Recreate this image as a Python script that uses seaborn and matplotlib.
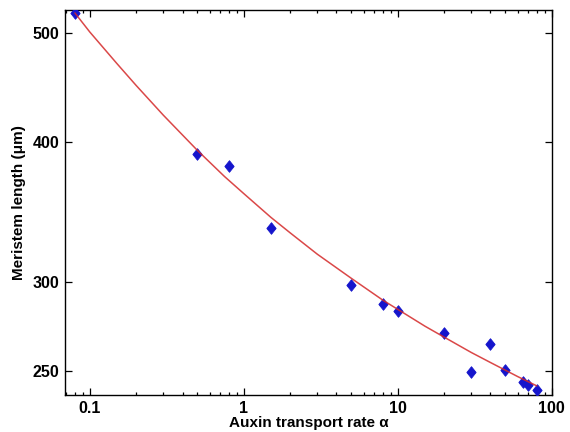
import numpy as np
import pandas as pd
import matplotlib
matplotlib.use("Agg")
import matplotlib.pyplot as plt
import seaborn as sns

# Measured points
alpha = [0.08, 0.5, 0.8, 1.5, 5, 8, 10, 20, 30, 40, 50, 65, 70, 80]
length = [521, 390, 381, 335, 298, 287, 283, 270, 249.5, 264, 250.5, 244.5, 243, 240.5]

# Fitted curve
fit_alpha = [0.08, 0.1, 0.15, 0.2, 0.3, 0.5, 0.75, 1, 1.5, 2, 3, 5, 8, 10, 15, 20, 30, 40, 60, 80]
fit_length = [521, 501, 469.6, 449, 422.5, 393, 372.5, 359.7, 342.6, 331.9, 317.7, 302.3,
              289.1, 283.7, 274.1, 268.0, 259.7, 254.4, 247.2, 242.5]

xticks = [0.1, 1, 10, 100]
xticklabels = ["0.1", "1", "10", "100"]
yticks = [250, 300, 400, 500]
yticklabels = ["250", "300", "400", "500"]

sns.set_style("ticks")
plt.rcParams['font.family'] = ['Liberation Sans', 'DejaVu Sans']
plt.rcParams['font.weight'] = 'bold'
plt.rcParams['text.color'] = 'black'
plt.rcParams['axes.labelcolor'] = 'black'
plt.rcParams['xtick.color'] = 'black'
plt.rcParams['ytick.color'] = 'black'

fig = plt.figure(figsize=(5.7, 4.32), dpi=100)
ax = fig.add_axes([0.114, 0.0856, 0.854, 0.891])

df_fit = pd.DataFrame({"a": fit_alpha, "L": fit_length})
df_pts = pd.DataFrame({"a": alpha, "L": length})

diamond = [(0, 1), (0.8, 0), (0, -1), (-0.8, 0), (0, 1)]
sns.scatterplot(data=df_pts, x="a", y="L", ax=ax, marker=diamond, color="#1515cc",
                s=70, edgecolor="#1515cc", linewidth=0.6, zorder=3)
sns.lineplot(data=df_fit, x="a", y="L", ax=ax, color="#d42828", linewidth=1.1, sort=False,
             zorder=4, alpha=0.85)

ax.set_xscale("log")
ax.set_yscale("log")
ax.set_xlim(0.069, 100)
ax.set_ylim(238, 524)

ax.set_xticks(xticks)
ax.set_xticklabels(xticklabels)
ax.set_yticks(yticks)
ax.set_yticklabels(yticklabels)
ax.yaxis.set_minor_locator(matplotlib.ticker.NullLocator())
ax.xaxis.set_minor_locator(matplotlib.ticker.LogLocator(base=10, subs=np.arange(2, 10)))
ax.xaxis.set_minor_formatter(matplotlib.ticker.NullFormatter())

ax.tick_params(which="both", direction="in", top=True, right=True, width=0.9,
               labelsize=11.5, colors="black")
ax.tick_params(which="major", length=5, pad=4)
ax.tick_params(which="minor", length=2.5)
for lab in ax.get_xticklabels() + ax.get_yticklabels():
    lab.set_fontweight("bold")

for sp in ax.spines.values():
    sp.set_visible(True)
    sp.set_linewidth(1.0)
    sp.set_color("black")

ax.set_xlabel("Auxin transport rate α", fontsize=11, fontweight="bold", labelpad=0)
ax.set_ylabel("Meristem length (μm)", fontsize=11, fontweight="bold", labelpad=5)

fig.savefig("out.png", dpi=100)
